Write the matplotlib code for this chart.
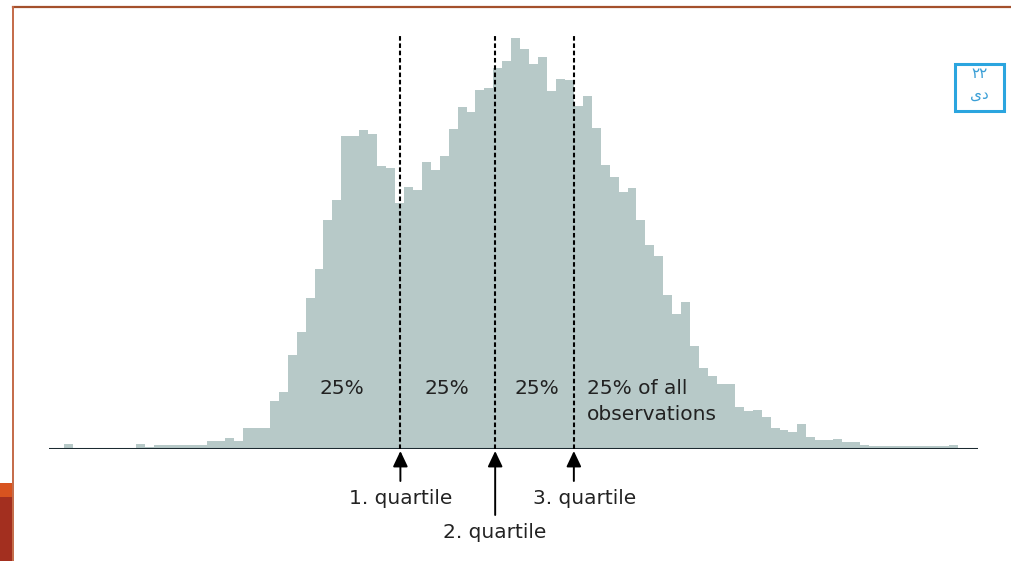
import numpy as np
import matplotlib.pyplot as plt
from matplotlib.patches import Rectangle
from matplotlib.lines import Line2D

# histogram bin counts (100 equal bins)
counts = [5, 1.5, 1.5, 1.5, 1.5, 1.5, 1.5, 1.5, 5, 2,
          4, 4, 4, 4, 4, 4, 8, 8, 11.5, 8.5,
          21, 21, 21, 48, 57, 94, 117, 151, 180, 229,
          249, 313, 313, 319, 315, 283, 281, 246, 262, 259,
          287, 279, 293, 320, 342, 337, 359, 361, 381, 388,
          411, 400, 385, 392, 358, 370, 369, 343, 353, 321,
          284, 272, 257, 261, 229, 204, 193, 154, 135, 147,
          103, 81, 73, 65, 65, 42, 38, 39, 32, 21,
          19, 17, 25, 12, 9, 9, 10, 7, 7, 4,
          3, 3, 3, 3, 3, 3, 3, 3, 3, 4.5]
quartiles = [37.6, 48.2, 57.0]
quartile_labels = ['1. quartile', '2. quartile', '3. quartile']
share_labels = ['25%', '25%', '25%', '25% of all\nobservations']

edges = np.arange(len(counts) + 1)

W, H = 1012, 561
fig = plt.figure(figsize=(W / 100, H / 100), dpi=100)
fig.patch.set_facecolor('white')

# slide frame bits
fig.add_artist(Line2D([13 / W, 1], [1 - 7 / H, 1 - 7 / H], color='#a4502c', lw=1.6))
fig.add_artist(Line2D([13 / W, 13 / W], [0, 1 - 7 / H], color='#c46a48', lw=1.4))
fig.add_artist(Rectangle((0, 1 - 497 / H), 12 / W, 14 / H, transform=fig.transFigure,
                         facecolor='#d8531f', edgecolor='none'))
fig.add_artist(Rectangle((0, 0), 12 / W, 1 - 497 / H, transform=fig.transFigure,
                         facecolor='#a32f1f', edgecolor='none'))
fig.add_artist(Rectangle((955 / W, 1 - 111 / H), 49 / W, 47 / H, transform=fig.transFigure,
                         facecolor='white', edgecolor='#2ba5df', lw=2.2))
fig.text(979.5 / W, 1 - 74 / H, '\u06f2\u06f2', color='#3b9fd6', fontsize=11,
         ha='center', va='center', family=['DejaVu Sans'])
fig.text(979.5 / W, 1 - 94 / H, '\u06cc\u062f', color='#3b9fd6', fontsize=11,
         ha='center', va='center', family=['DejaVu Sans'])

ax = fig.add_axes([49 / W, 1 - 449 / H, 929 / W, 419 / H])
ax.set_xlim(-1.7, 102.2)
ax.set_ylim(0, 419)
ax.axis('off')

ax.stairs(counts, edges, fill=True, color='#b7c9c8', lw=0)
ax.axhline(0, color='#1c2a31', lw=2.2, zorder=3)

for q in quartiles:
    ax.plot([q, q], [0, 413], color='black', lw=1.5, ls=(0, (2.2, 1.3)), zorder=4)

# arrows and labels below the axis
arrow_ends = [-32, -66, -32]
label_y = [-50, -83, -50]
label_x = [quartiles[0], quartiles[1], quartiles[2] + 1.2]
for q, ye, lx, ly, txt in zip(quartiles, arrow_ends, label_x, label_y, quartile_labels):
    ax.annotate('', xy=(q, -2), xytext=(q, ye),
                arrowprops=dict(arrowstyle='-|>,head_length=0.95,head_width=0.45',
                                color='black', lw=1.4, shrinkA=0, shrinkB=0),
                annotation_clip=False)
    ax.text(lx, ly, txt, ha='center', va='center', fontsize=14.5, color='#222222',
            clip_on=False)

share_x = [31.07, 42.8, 52.9, 58.5]
for i, (sx, txt) in enumerate(zip(share_x, share_labels)):
    if i < 3:
        ax.text(sx, 61, txt, ha='center', va='center', fontsize=14.5, color='#222222')
    else:
        ax.text(sx, 61, txt.split('\n')[0], ha='left', va='center', fontsize=14.5, color='#222222')
        ax.text(sx, 34, txt.split('\n')[1], ha='left', va='center', fontsize=14.5, color='#222222')

fig.savefig('out.png', dpi=100)
